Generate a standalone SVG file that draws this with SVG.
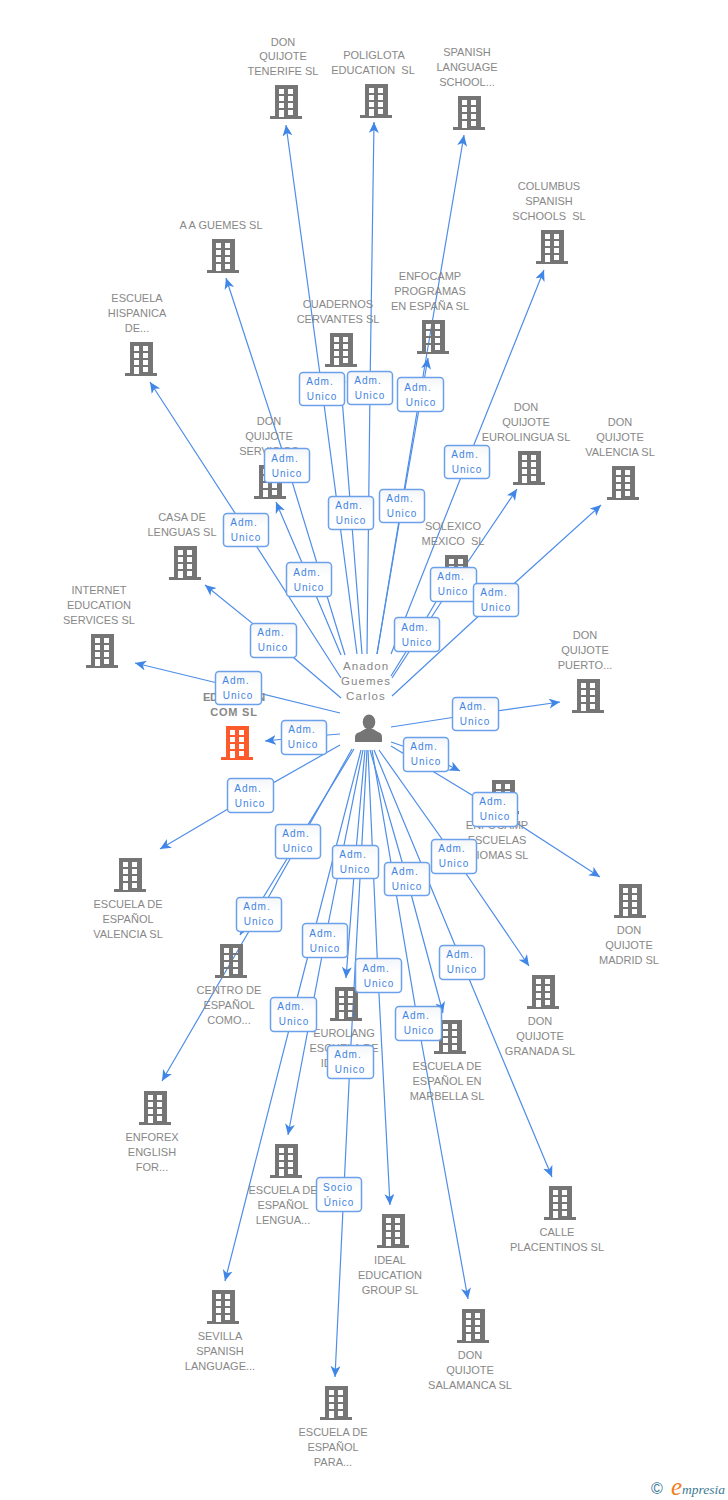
<svg xmlns="http://www.w3.org/2000/svg" width="728" height="1500" viewBox="0 0 728 1500">
<style>
.t{font-family:"Liberation Sans",Arial,sans-serif;font-size:11px;fill:#888;text-anchor:middle;white-space:pre}
.p{font-family:"Liberation Sans",Arial,sans-serif;font-size:11.5px;fill:#888;text-anchor:middle;letter-spacing:1.1px}
.e{font-family:"Liberation Sans",Arial,sans-serif;font-size:11px;fill:#888;text-anchor:middle;font-weight:700}
.c polyline{stroke:#4f8ee8;stroke-width:1.2;fill:none;marker-end:url(#a)}
.b rect{fill:url(#g);stroke:#6ba1ea;stroke-width:1.5}
.b text{font-family:"Liberation Sans",Arial,sans-serif;font-size:10px;fill:#3f84e2;text-anchor:middle;letter-spacing:1px;transform:translateY(-1px)}
.n{fill:#757575}
</style>
<defs>
<linearGradient id="g" x1="0" y1="0" x2="0" y2="1"><stop offset="0" stop-color="#f3f5f8"/><stop offset=".4" stop-color="#fff"/></linearGradient>
<marker id="a" markerUnits="userSpaceOnUse" markerWidth="14" markerHeight="12" refX="11" refY="5" orient="auto"><path d="M0 0L11 5L0 10L3 5Z" fill="#3f86e6"/></marker>
<g id="h"><path fill-rule="evenodd" d="M4 0H27V31H31V34H-1V31H4ZM8 4V9H13V4ZM17 4V9H22V4ZM8 11V16H13V11ZM17 11V16H22V11ZM8 18V23H13V18ZM17 18V23H22V18ZM8 25V32H13V25ZM17 25V30H22V25Z"/></g>
</defs>
<g id="connectors" class="c">
<polyline points="357,654 322,389 286,125"/>
<polyline points="367,654 370,388 374,122"/>
<polyline points="377,654 420,394 464,135"/>
<polyline points="391,654 467,462 544,270"/>
<polyline points="377,654 402,506 428,358"/>
<polyline points="362,654 351,513 340,372"/>
<polyline points="345,655 287,465 226,278"/>
<polyline points="341,678 246,530 150,382"/>
<polyline points="341,655 309,579 276,502"/>
<polyline points="341,698 273,640 205,585"/>
<polyline points="340,713 238,688 135,663"/>
<polyline points="340,734 304,737 265,741"/>
<polyline points="340,745 250,796 160,849"/>
<polyline points="354,749 298,841 240,935"/>
<polyline points="352,749 259,914 162,1081"/>
<polyline points="361,750 293,1014 225,1281"/>
<polyline points="363,750 325,940 288,1135"/>
<polyline points="365,750 355,862 346,978"/>
<polyline points="367,750 350,1062 335,1377"/>
<polyline points="368,750 378,975 390,1205"/>
<polyline points="370,750 407,879 443,1013"/>
<polyline points="372,750 418,1023 468,1299"/>
<polyline points="379,750 454,856 529,966"/>
<polyline points="374,750 462,962 552,1177"/>
<polyline points="391,746 495,809 600,877"/>
<polyline points="391,742 426,754 460,771"/>
<polyline points="391,727 475,714 560,702"/>
<polyline points="392,696 496,600 601,505"/>
<polyline points="392,678 453,584 517,489"/>
<polyline points="391,676 417,634 450,578"/>
</g>
<g id="n1" class="n"><use href="#h" x="271" y="85"/><text class="t" x="283" y="46">DON</text><text class="t" x="283" y="60">QUIJOTE</text><text class="t" x="283" y="75">TENERIFE SL</text></g>
<g id="n2" class="n"><use href="#h" x="361" y="84"/><text class="t" x="374" y="59">POLIGLOTA</text><text class="t" x="373" y="74">EDUCATION  SL</text></g>
<g id="n3" class="n"><use href="#h" x="454" y="96"/><text class="t" x="467" y="56">SPANISH</text><text class="t" x="467" y="71">LANGUAGE</text><text class="t" x="467" y="86">SCHOOL...</text></g>
<g id="n4" class="n"><use href="#h" x="537" y="230"/><text class="t" x="549" y="190">COLUMBUS</text><text class="t" x="549" y="205">SPANISH</text><text class="t" x="549" y="220">SCHOOLS  SL</text></g>
<g id="n5" class="n"><use href="#h" x="208" y="239"/><text class="t" x="221" y="229">A A GUEMES SL</text></g>
<g id="n6" class="n"><use href="#h" x="418" y="320"/><text class="t" x="430" y="280">ENFOCAMP</text><text class="t" x="430" y="295">PROGRAMAS</text><text class="t" x="430" y="310">EN ESPAÑA SL</text></g>
<g id="n7" class="n"><use href="#h" x="326" y="333"/><text class="t" x="338" y="308">CUADERNOS</text><text class="t" x="338" y="323">CERVANTES SL</text></g>
<g id="n8" class="n"><use href="#h" x="126" y="342"/><text class="t" x="137" y="302">ESCUELA</text><text class="t" x="137" y="317">HISPANICA</text><text class="t" x="137" y="332">DE...</text></g>
<g id="n9" class="n"><use href="#h" x="514" y="451"/><text class="t" x="526" y="411">DON</text><text class="t" x="526" y="426">QUIJOTE</text><text class="t" x="526" y="441">EUROLINGUA SL</text></g>
<g id="n10" class="n"><use href="#h" x="608" y="466"/><text class="t" x="620" y="426">DON</text><text class="t" x="620" y="441">QUIJOTE</text><text class="t" x="620" y="456">VALENCIA SL</text></g>
<g id="n11" class="n"><use href="#h" x="255" y="465"/><text class="t" x="269" y="425">DON</text><text class="t" x="269" y="440">QUIJOTE</text><text class="t" x="269" y="455">SERVICIOS</text></g>
<g id="n12" class="n"><use href="#h" x="170" y="546"/><text class="t" x="182" y="521">CASA DE</text><text class="t" x="182" y="536">LENGUAS SL</text></g>
<g id="n13" class="n"><use href="#h" x="441" y="555"/><text class="t" x="453" y="530">SOLEXICO</text><text class="t" x="453" y="545">MEXICO  SL</text></g>
<g id="n14" class="n"><use href="#h" x="87" y="634"/><text class="t" x="99" y="594">INTERNET</text><text class="t" x="99" y="609">EDUCATION</text><text class="t" x="99" y="624">SERVICES SL</text></g>
<g id="n15" class="n"><use href="#h" x="573" y="679"/><text class="t" x="585" y="639">DON</text><text class="t" x="585" y="654">QUIJOTE</text><text class="t" x="585" y="669">PUERTO...</text></g>
<g id="n16" fill="#ff5a2c"><use href="#h" x="222" y="726"/><text class="e" x="234" y="701" letter-spacing="-.3">EDUCATION</text><text class="e" x="234" y="716" letter-spacing=".8">COM SL</text></g>
<g id="n17" class="n"><use href="#h" x="488" y="780"/><text class="t" x="497" y="829">ENFOCAMP</text><text class="t" x="497" y="844">ESCUELAS</text><text class="t" x="497" y="859">IDIOMAS SL</text></g>
<g id="n18" class="n"><use href="#h" x="115" y="858"/><text class="t" x="128" y="908">ESCUELA DE</text><text class="t" x="128" y="923">ESPAÑOL</text><text class="t" x="128" y="938">VALENCIA SL</text></g>
<g id="n19" class="n"><use href="#h" x="615" y="884"/><text class="t" x="629" y="934">DON</text><text class="t" x="629" y="949">QUIJOTE</text><text class="t" x="629" y="964">MADRID SL</text></g>
<g id="n20" class="n"><use href="#h" x="216" y="944"/><text class="t" x="229" y="994">CENTRO DE</text><text class="t" x="229" y="1009">ESPAÑOL</text><text class="t" x="229" y="1024">COMO...</text></g>
<g id="n21" class="n"><use href="#h" x="528" y="975"/><text class="t" x="540" y="1025">DON</text><text class="t" x="540" y="1040">QUIJOTE</text><text class="t" x="540" y="1055">GRANADA SL</text></g>
<g id="n22" class="n"><use href="#h" x="331" y="987"/><text class="t" x="344" y="1037">EUROLANG</text><text class="t" x="344" y="1052">ESCUELA DE</text><text class="t" x="344" y="1067">IDIOMAS</text></g>
<g id="n23" class="n"><use href="#h" x="435" y="1020"/><text class="t" x="447" y="1070">ESCUELA DE</text><text class="t" x="447" y="1085">ESPAÑOL EN</text><text class="t" x="447" y="1100">MARBELLA SL</text></g>
<g id="n24" class="n"><use href="#h" x="140" y="1091"/><text class="t" x="152" y="1141">ENFOREX</text><text class="t" x="152" y="1156">ENGLISH</text><text class="t" x="152" y="1171">FOR...</text></g>
<g id="n25" class="n"><use href="#h" x="271" y="1144"/><text class="t" x="283" y="1194">ESCUELA DE</text><text class="t" x="283" y="1209">ESPAÑOL</text><text class="t" x="283" y="1224">LENGUA...</text></g>
<g id="n26" class="n"><use href="#h" x="545" y="1186"/><text class="t" x="557" y="1236">CALLE</text><text class="t" x="557" y="1251">PLACENTINOS SL</text></g>
<g id="n27" class="n"><use href="#h" x="378" y="1214"/><text class="t" x="390" y="1264">IDEAL</text><text class="t" x="390" y="1279">EDUCATION</text><text class="t" x="390" y="1294">GROUP SL</text></g>
<g id="n28" class="n"><use href="#h" x="208" y="1290"/><text class="t" x="220" y="1340">SEVILLA</text><text class="t" x="220" y="1355">SPANISH</text><text class="t" x="220" y="1370">LANGUAGE...</text></g>
<g id="n29" class="n"><use href="#h" x="458" y="1309"/><text class="t" x="470" y="1359">DON</text><text class="t" x="470" y="1374">QUIJOTE</text><text class="t" x="470" y="1389">SALAMANCA SL</text></g>
<g id="n30" class="n"><use href="#h" x="321" y="1386"/><text class="t" x="333" y="1436">ESCUELA DE</text><text class="t" x="333" y="1451">ESPAÑOL</text><text class="t" x="333" y="1466">PARA...</text></g>
<g id="person"><text class="p" x="366" y="670">Anadon</text><text class="p" x="366" y="685">Guemes</text><text class="p" x="366" y="700">Carlos</text><ellipse cx="369" cy="722" rx="6.300" ry="7.500" fill="#757575"/><path fill="#757575" d="M355 742V737Q355 733 360 732L365 729H373L378 732Q382 733 382 737V742Z"/></g>
<g id="labels" class="b">
<g><rect x="299.500" y="372.500" width="45" height="33" rx="3.500"/><text x="320" y="386">Adm.</text><text x="322" y="401">Unico</text></g>
<g><rect x="347.500" y="371.500" width="45" height="33" rx="3.500"/><text x="368" y="385">Adm.</text><text x="370" y="400">Unico</text></g>
<g><rect x="397.500" y="377.500" width="46" height="34" rx="3.500"/><text x="418" y="392">Adm.</text><text x="421" y="407">Unico</text></g>
<g><rect x="444.500" y="445.500" width="45" height="33" rx="3.500"/><text x="465" y="459">Adm.</text><text x="467" y="474">Unico</text></g>
<g><rect x="264.500" y="448.500" width="45" height="34" rx="3.500"/><text x="285" y="463">Adm.</text><text x="287" y="478">Unico</text></g>
<g><rect x="328.500" y="496.500" width="45" height="33" rx="3.500"/><text x="349" y="510">Adm.</text><text x="351" y="525">Unico</text></g>
<g><rect x="379.500" y="489.500" width="45" height="33" rx="3.500"/><text x="400" y="503">Adm.</text><text x="402" y="518">Unico</text></g>
<g><rect x="223.500" y="513.500" width="45" height="33" rx="3.500"/><text x="244" y="527">Adm.</text><text x="246" y="542">Unico</text></g>
<g><rect x="286.500" y="562.500" width="45" height="34" rx="3.500"/><text x="307" y="577">Adm.</text><text x="309" y="592">Unico</text></g>
<g><rect x="430.500" y="567.500" width="46" height="34" rx="3.500"/><text x="451" y="581">Adm.</text><text x="453" y="596">Unico</text></g>
<g><rect x="473.500" y="583.500" width="45" height="33" rx="3.500"/><text x="494" y="597">Adm.</text><text x="496" y="612">Unico</text></g>
<g><rect x="394.500" y="617.500" width="45" height="34" rx="3.500"/><text x="415" y="632">Adm.</text><text x="417" y="647">Unico</text></g>
<g><rect x="250.500" y="623.500" width="46" height="34" rx="3.500"/><text x="271" y="637">Adm.</text><text x="273" y="652">Unico</text></g>
<g><rect x="215.500" y="671.500" width="46" height="33" rx="3.500"/><text x="236" y="685">Adm.</text><text x="238" y="700">Unico</text></g>
<g><rect x="452.500" y="697.500" width="46" height="33" rx="3.500"/><text x="473" y="711">Adm.</text><text x="475" y="726">Unico</text></g>
<g><rect x="281.500" y="720.500" width="45" height="34" rx="3.500"/><text x="302" y="734">Adm.</text><text x="303" y="749">Unico</text></g>
<g><rect x="403.500" y="737.500" width="45" height="34" rx="3.500"/><text x="424" y="751">Adm.</text><text x="426" y="766">Unico</text></g>
<g><rect x="227.500" y="778.500" width="46" height="34" rx="3.500"/><text x="248" y="793">Adm.</text><text x="250" y="808">Unico</text></g>
<g><rect x="472.500" y="792.500" width="45" height="34" rx="3.500"/><text x="493" y="806">Adm.</text><text x="495" y="821">Unico</text></g>
<g><rect x="275.500" y="824.500" width="45" height="34" rx="3.500"/><text x="296" y="838">Adm.</text><text x="298" y="853">Unico</text></g>
<g><rect x="332.500" y="845.500" width="46" height="33" rx="3.500"/><text x="353" y="859">Adm.</text><text x="355" y="874">Unico</text></g>
<g><rect x="431.500" y="839.500" width="45" height="34" rx="3.500"/><text x="452" y="853">Adm.</text><text x="454" y="868">Unico</text></g>
<g><rect x="384.500" y="862.500" width="45" height="33" rx="3.500"/><text x="405" y="876">Adm.</text><text x="407" y="891">Unico</text></g>
<g><rect x="236.500" y="897.500" width="45" height="34" rx="3.500"/><text x="257" y="911">Adm.</text><text x="259" y="926">Unico</text></g>
<g><rect x="302.500" y="923.500" width="45" height="34" rx="3.500"/><text x="323" y="938">Adm.</text><text x="325" y="953">Unico</text></g>
<g><rect x="355.500" y="958.500" width="46" height="34" rx="3.500"/><text x="376" y="973">Adm.</text><text x="379" y="988">Unico</text></g>
<g><rect x="439.500" y="945.500" width="45" height="34" rx="3.500"/><text x="460" y="959">Adm.</text><text x="462" y="974">Unico</text></g>
<g><rect x="270.500" y="997.500" width="46" height="34" rx="3.500"/><text x="291" y="1011">Adm.</text><text x="294" y="1026">Unico</text></g>
<g><rect x="395.500" y="1006.500" width="46" height="34" rx="3.500"/><text x="416" y="1020">Adm.</text><text x="419" y="1035">Unico</text></g>
<g><rect x="327.500" y="1045.500" width="46" height="33" rx="3.500"/><text x="348" y="1059">Adm.</text><text x="350" y="1074">Unico</text></g>
<g><rect x="316.500" y="1177.500" width="45" height="34" rx="3.500"/><text x="338" y="1192">Socio</text><text x="339" y="1207">Único</text></g>
</g>
<g id="logo"><text x="657" y="1494" font-family="Liberation Sans,sans-serif" font-size="16" fill="#3d7a94" text-anchor="middle">©</text><text x="671" y="1495" font-family="Liberation Serif,serif" font-style="italic" font-size="25" fill="#f08020">e</text><text x="682" y="1494" font-family="Liberation Serif,serif" font-style="italic" font-size="13.500" fill="#3d7a94">mpresia</text></g>
</svg>
